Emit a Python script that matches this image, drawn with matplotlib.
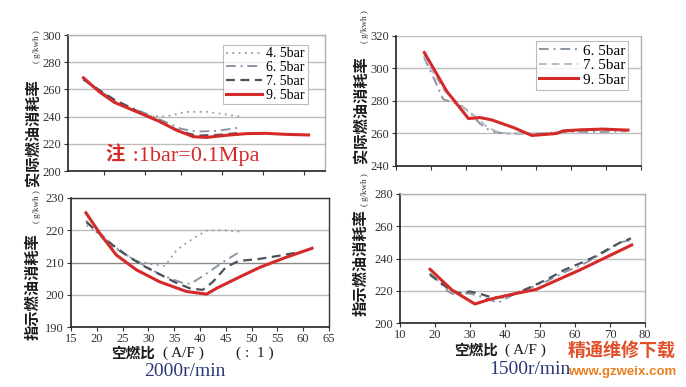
import matplotlib
matplotlib.use('Agg')
import matplotlib.pyplot as plt

plt.rcParams['font.family'] = ['Liberation Serif', 'Noto Sans CJK SC']

# ---- data: 2000 r/min, actual fuel consumption (top left)
tl_45_x = [18, 21.5, 24, 28, 31, 34, 38, 42, 45, 48.5]
tl_45_y = [267, 258, 251.5, 245, 240.5, 240, 243.5, 243.5, 242, 240]
tl_65_x = [18, 21.5, 24, 28, 31, 34, 37, 40, 44, 48.5]
tl_65_y = [267, 258, 252, 245.5, 241, 236, 231, 229, 229.5, 232]
tl_75_x = [18, 21.5, 24, 28, 31, 34, 37, 40, 44, 48.5]
tl_75_y = [267.5, 258.5, 252.5, 245, 239.5, 234, 229, 226, 226.5, 228]
tl_95_x = [18, 21, 24, 28.4, 32.9, 36.1, 39.4, 42, 45.9, 49.8, 53.5, 57, 61.8]
tl_95_y = [268.5, 258.5, 250.5, 243.5, 236.3, 230, 225.2, 224.7, 226.3, 227.5, 227.7, 227, 226.5]

# ---- 2000 r/min, indicated fuel consumption (bottom left)
bl_45_x = [18, 20.5, 23, 25.5, 27.7, 30.5, 33.2, 35.5, 38.7, 41.3, 44.5, 47.8]
bl_45_y = [221.5, 219, 215.5, 212.5, 210.5, 209.5, 208.9, 213.9, 217.5, 219.9, 220, 219.6]
bl_65_x = [17.9, 20.5, 22.5, 25, 27.7, 32.2, 36.7, 38.2, 41.3, 44.5, 48.1]
bl_65_y = [223, 218.5, 215.4, 213, 210.5, 206.3, 203.6, 203.4, 206.6, 210.2, 213.7]
bl_75_x = [18, 20.5, 23, 26, 29, 32, 35, 38, 40.5, 42.5, 45, 47.5, 51, 55, 59.5]
bl_75_y = [222.5, 219, 215.5, 212, 209, 206.5, 204, 202, 201.5, 204, 208.5, 210.5, 211, 212, 213.3]
bl_95_x = [17.9, 20.6, 23.8, 27.7, 32.2, 37.4, 41.3, 43.2, 47.8, 51.6, 56.5, 61.7]
bl_95_y = [225.4, 219, 212.3, 207.7, 204, 201, 200.2, 202, 205.6, 208.5, 211.5, 214.4]

# ---- 1500 r/min, actual fuel consumption (top right)
tr_65_x = [18, 21, 23.5, 26.5, 29, 31.5, 34, 37, 41, 46, 50, 55, 60, 65, 70, 76]
tr_65_y = [307, 293, 281, 279, 276.5, 272, 266, 261.5, 260, 260, 260, 260.5, 261, 261, 261, 261.5]
tr_75_x = [18, 21, 24, 27, 30, 33, 36, 39, 42, 46, 50, 55, 60, 65, 70, 76]
tr_75_y = [308, 296, 286, 280, 275, 270, 264, 261, 260, 260, 260, 260.5, 261.5, 262, 262, 262]
tr_95_x = [18.1, 24.5, 30.7, 34, 37.3, 43.5, 48.8, 55.9, 57.7, 63, 69.1, 76.3]
tr_95_y = [309.8, 286, 269.2, 269.8, 268.4, 263.7, 258.8, 260, 261.6, 262.3, 262.7, 262.1]

# ---- 1500 r/min, indicated fuel consumption (bottom right)
br_65_x = [18.5, 21, 23.5, 26, 29, 31.5, 35, 38, 41, 44, 48, 52, 57, 62, 66, 70, 73, 76]
br_65_y = [229.5, 226, 220, 217, 218.5, 217.5, 215, 212.5, 216, 219.5, 222.5, 226, 231.5, 236, 241, 246, 250, 251.5]
br_75_x = [18.5, 21, 24, 27, 30, 33, 36, 40, 44, 48, 52, 57, 62, 66, 70, 73, 76]
br_75_y = [230.5, 226, 221, 218.5, 219.5, 218, 216, 216, 219, 223, 227, 233, 237.5, 241.5, 246.5, 250, 252.5]
br_95_x = [18.6, 24.8, 31.4, 35.7, 42.4, 49, 61.4, 76.2]
br_95_y = [233.3, 220.5, 211.8, 214.7, 218, 220.9, 232.9, 248.4]

left_ticks_x = [15, 20, 25, 30, 35, 40, 45, 50, 55, 60, 65]
right_ticks_x = [10, 20, 30, 40, 50, 60, 70, 80]

RED = '#d42a2a'
styles = {
    '4.5': dict(color='#9a9a9a', ls=(0, (1, 2.5)), lw=1.3),
    '6.5': dict(color='#8a96a2', ls=(0, (5, 2.5, 1, 2.5)), lw=1.4),
    '7.5': dict(color='#4a525c', ls=(0, (4, 2.5)), lw=1.6),
    '9.5': dict(color=RED, ls='-', lw=2.2),
}
styles_tr = {
    '6.5': dict(color='#8a96a2', ls=(0, (5, 2.5, 1, 2.5)), lw=1.4),
    '7.5': dict(color='#b4bcc4', ls=(0, (4, 2.5)), lw=1.4),
    '9.5': dict(color=RED, ls='-', lw=2.2),
}

W, H = 686, 387
fig = plt.figure(figsize=(W / 100, H / 100), dpi=100)


def make_ax(l, r, t, b):
    return fig.add_axes([l / W, 1 - b / H, (r - l) / W, (b - t) / H])


def style_ax(ax, xlim, ylim, yticks, xticks, xlabels=True, box_dark=False):
    ax.set_xlim(*xlim)
    ax.set_ylim(*ylim)
    ax.set_yticks(yticks)
    ax.set_xticks(xticks)
    if not xlabels:
        ax.set_xticklabels([])
    ax.yaxis.grid(True, color='#bdbdbd', lw=1.0)
    ax.set_axisbelow(True)
    for s in ['left', 'bottom']:
        ax.spines[s].set_color('#222222')
        ax.spines[s].set_linewidth(1.2)
    for s in ['top', 'right']:
        ax.spines[s].set_color('#333333' if box_dark else '#b0b0b0')
        ax.spines[s].set_linewidth(1.0)
    ax.tick_params(axis='both', direction='out', length=3, width=0.8,
                   colors='#333333', labelsize=9, pad=2)
    ax.tick_params(axis='x', pad=1)


# top left
ax1 = make_ax(68, 325, 35, 171)
ax1.plot(tl_45_x, tl_45_y, label='4. 5bar', **styles['4.5'])
ax1.plot(tl_65_x, tl_65_y, label='6. 5bar', **styles['6.5'])
ax1.plot(tl_75_x, tl_75_y, label='7. 5bar', **styles['7.5'])
ax1.plot(tl_95_x, tl_95_y, label='9. 5bar', **styles['9.5'])
style_ax(ax1, (15, 65), (200, 300), [200, 220, 240, 260, 280, 300],
         [22, 30, 37, 45, 53, 61], xlabels=False)
leg = ax1.legend(loc='upper right', fontsize=10, frameon=True, fancybox=False,
                 borderpad=0.2, labelspacing=0.05, handlelength=2.6,
                 handletextpad=0.3, bbox_to_anchor=(0.96, 0.98))
leg.get_frame().set_edgecolor('#aaaaaa')
leg.get_frame().set_linewidth(0.8)
ax1.text(0.145, 0.075, '注', transform=ax1.transAxes, color=RED, fontsize=14,
         fontweight='bold', family=['Noto Sans CJK SC'], va='baseline')
ax1.text(0.23, 0.075, ' :1bar=0.1Mpa', transform=ax1.transAxes, color=RED,
         fontsize=16, va='baseline')

# bottom left
ax2 = make_ax(71, 329, 198, 327)
ax2.plot(bl_45_x, bl_45_y, **styles['4.5'])
ax2.plot(bl_65_x, bl_65_y, **styles['6.5'])
ax2.plot(bl_75_x, bl_75_y, **styles['7.5'])
ax2.plot(bl_95_x, bl_95_y, **styles['9.5'])
style_ax(ax2, (15, 65), (190, 230), [190, 200, 210, 220, 230], left_ticks_x,
         box_dark=True)
ax2.yaxis.get_gridlines()[2].set_color('#8a8a8a')

# top right
ax3 = make_ax(396, 641, 36, 166)
ax3.plot(tr_65_x, tr_65_y, label='6. 5bar', **styles_tr['6.5'])
ax3.plot(tr_75_x, tr_75_y, label='7. 5bar', **styles_tr['7.5'])
ax3.plot(tr_95_x, tr_95_y, label='9. 5bar', **styles_tr['9.5'])
style_ax(ax3, (10, 80), (240, 320), [240, 260, 280, 300, 320], right_ticks_x,
         xlabels=False)
ax3.spines['top'].set_visible(False)
leg3 = ax3.legend(loc='upper right', fontsize=11, frameon=True, fancybox=False,
                  borderpad=0.2, labelspacing=0.05, handlelength=2.6,
                  handletextpad=0.3, bbox_to_anchor=(0.98, 1.02))
leg3.get_frame().set_edgecolor('#aaaaaa')
leg3.get_frame().set_linewidth(0.8)

# bottom right
ax4 = make_ax(400, 645, 194, 323)
ax4.plot(br_65_x, br_65_y, **styles_tr['6.5'])
ax4.plot(br_75_x, br_75_y, **styles['7.5'])
ax4.plot(br_95_x, br_95_y, **styles['9.5'])
style_ax(ax4, (10, 80), (200, 280), [200, 220, 240, 260, 280], right_ticks_x)

# y labels (vertical, Chinese)
cjk = ['Noto Sans CJK SC']
for x, yc, yu, txt in [(33, 133, 47, '实际燃油消耗率'),
                       (33, 287, 207, '指示燃油消耗率'),
                       (361, 110, 27, '实际燃油消耗率'),
                       (361, 263, 190, '指示燃油消耗率')]:
    fig.text(x / W, 1 - yc / H, txt, rotation=90, ha='center', va='center',
             fontsize=11, fontweight='bold', family=cjk, color='#1a1a1a')
    fig.text((x + 4) / W, 1 - yu / H, '( g/kwh )', rotation=90, ha='center',
             va='center', fontsize=6.5, color='#333333')

# x labels
fig.text(133 / W, 1 - 353 / H, '空燃比', ha='center', va='center', fontsize=10.5,
         fontweight='bold', family=cjk, color='#1a1a1a')
fig.text(183 / W, 1 - 353 / H, '( A/F )', ha='center', va='center',
         fontsize=11, color='#1a1a1a')
fig.text(255 / W, 1 - 353 / H, '( :  1 )', ha='center', va='center',
         fontsize=11, color='#1a1a1a')
fig.text(476 / W, 1 - 350 / H, '空燃比', ha='center', va='center', fontsize=10.5,
         fontweight='bold', family=cjk, color='#1a1a1a')
fig.text(525 / W, 1 - 350 / H, '( A/F )', ha='center', va='center',
         fontsize=11, color='#1a1a1a')

fig.text(185 / W, 1 - 371 / H, '2000r/min', ha='center', va='center',
         fontsize=14, color='#2c3a78')
fig.text(530 / W, 1 - 369 / H, '1500r/min', ha='center', va='center',
         fontsize=14, color='#2c3a78')

# watermark
fig.text(622 / W, 1 - 350 / H, '精通维修下载', ha='center', va='center',
         fontsize=13, fontweight='bold', family=cjk, color='#e0502a')
fig.text(622 / W, 1 - 372 / H, 'www.gzweix.com', ha='center', va='center',
         fontsize=9.5, fontweight='bold', family=['Liberation Sans'], color='#e8801e')

fig.savefig('out.png', dpi=100, facecolor='white')
